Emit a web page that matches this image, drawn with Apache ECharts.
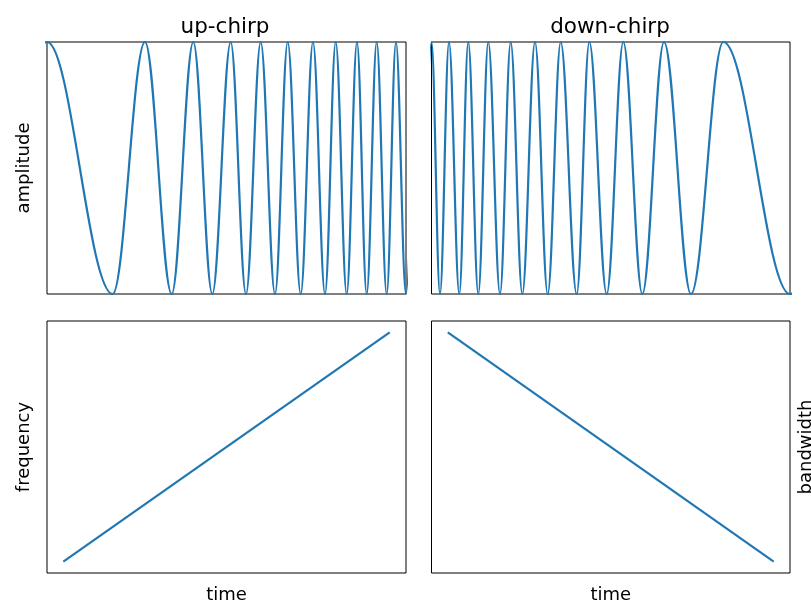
<!DOCTYPE html>
<html>
<head>
<meta charset="utf-8">
<script src="https://cdn.jsdelivr.net/npm/echarts@6/dist/echarts.min.js"></script>
<style>html,body{margin:0;padding:0;background:#fff}#c{width:811px;height:603px}</style>
</head>
<body>
<div id="c"></div>
<script>
// Up-chirp: times (0..1) of successive peaks/troughs
// (first and last entries are the neighbouring extrema just outside the plotted range, clipped)
var upTime = [-0.1830, 0, 0.1830, 0.2730, 0.3474, 0.4075, 0.4604, 0.5117, 0.5543, 0.5953, 0.6351, 0.6705,
              0.7067, 0.7409, 0.7744, 0.8042, 0.8348, 0.8635, 0.8905, 0.9184, 0.9462, 0.9720, 1.0, 1.027];
var upAmp  = [-1, 1, -1, 1, -1, 1, -1, 1, -1, 1, -1, 1, -1, 1, -1, 1, -1, 1, -1, 1, -1, 1, -1, 1];
// Down-chirp: times of successive peaks/troughs
var downTime = [-0.027, 0, 0.0237, 0.0488, 0.0775, 0.1026, 0.1305, 0.1584, 0.1911, 0.2209, 0.2533, 0.2887,
                0.3241, 0.3604, 0.4050, 0.4402, 0.4887, 0.5350, 0.5880, 0.6485, 0.7238, 0.8139, 1.0, 1.1861];
var downAmp  = [-1, 1, -1, 1, -1, 1, -1, 1, -1, 1, -1, 1, -1, 1, -1, 1, -1, 1, -1, 1, -1, 1, -1, 1];
// Frequency / bandwidth lines
var freqTime = [0, 1];
var upFreq = [0, 1];
var downBand = [1, 0];

var titles = ['up-chirp', 'down-chirp'];
var yNames = ['amplitude', 'frequency', 'bandwidth'];
var xName = 'time';

function pairs(xs, ys) { return xs.map(function (x, i) { return [x, ys[i]]; }); }

var FONT = 'DejaVu Sans';
var C = '#1f77b4';
var grids = [
  {left: 47, top: 42, width: 359, height: 252},
  {left: 431.5, top: 42, width: 358.5, height: 252},
  {left: 47, top: 321, width: 359, height: 252},
  {left: 431.5, top: 321, width: 358.5, height: 252}
].map(function (g) {
  return Object.assign({show: true, borderColor: '#000', borderWidth: 1, backgroundColor: 'transparent',
    containLabel: false, outerBoundsMode: 'none'}, g);
});

function ax(extra) {
  return Object.assign({
    type: 'value',
    axisLine: {show: false}, axisTick: {show: false}, axisLabel: {show: false}, splitLine: {show: false},
    nameTextStyle: {fontFamily: FONT, fontSize: 18, color: '#000'}
  }, extra);
}

var titleStyle = {fontFamily: FONT, fontSize: 21.5, fontWeight: 'normal', color: '#000'};
var lineCommon = {showSymbol: false, lineStyle: {color: C, width: 2.2}, clip: true};

var option = {
  animation: false,
  backgroundColor: '#fff',
  title: [
    {text: titles[0], left: 220, top: 11, textAlign: 'center', textStyle: titleStyle},
    {text: titles[1], left: 605, top: 11, textAlign: 'center', textStyle: titleStyle}
  ],
  grid: grids,
  xAxis: [
    ax({gridIndex: 0, min: 0, max: 1}),
    ax({gridIndex: 1, min: 0, max: 1}),
    ax({gridIndex: 2, min: -0.05, max: 1.05, name: xName, nameLocation: 'middle', nameGap: 13}),
    ax({gridIndex: 3, min: -0.05, max: 1.05, name: xName, nameLocation: 'middle', nameGap: 13})
  ],
  yAxis: [
    ax({gridIndex: 0, min: -1, max: 1, name: yNames[0], nameLocation: 'middle', nameGap: 14, nameRotate: 90}),
    ax({gridIndex: 1, min: -1, max: 1}),
    ax({gridIndex: 2, min: -0.05, max: 1.05, name: yNames[1], nameLocation: 'middle', nameGap: 14, nameRotate: 90}),
    ax({gridIndex: 3, min: -0.05, max: 1.05, position: 'right', name: yNames[2], nameLocation: 'middle', nameGap: 7, nameRotate: 90})
  ],
  series: [
    Object.assign({type: 'line', xAxisIndex: 0, yAxisIndex: 0, data: pairs(upTime, upAmp), smooth: 0.364, smoothMonotone: 'x'}, lineCommon),
    Object.assign({type: 'line', xAxisIndex: 1, yAxisIndex: 1, data: pairs(downTime, downAmp), smooth: 0.364, smoothMonotone: 'x'}, lineCommon),
    Object.assign({type: 'line', xAxisIndex: 2, yAxisIndex: 2, data: pairs(freqTime, upFreq)}, lineCommon),
    Object.assign({type: 'line', xAxisIndex: 3, yAxisIndex: 3, data: pairs(freqTime, downBand)}, lineCommon)
  ]
};
var chart = echarts.init(document.getElementById('c'), null, {renderer: 'canvas'});
chart.setOption(option);
</script>
</body>
</html>
